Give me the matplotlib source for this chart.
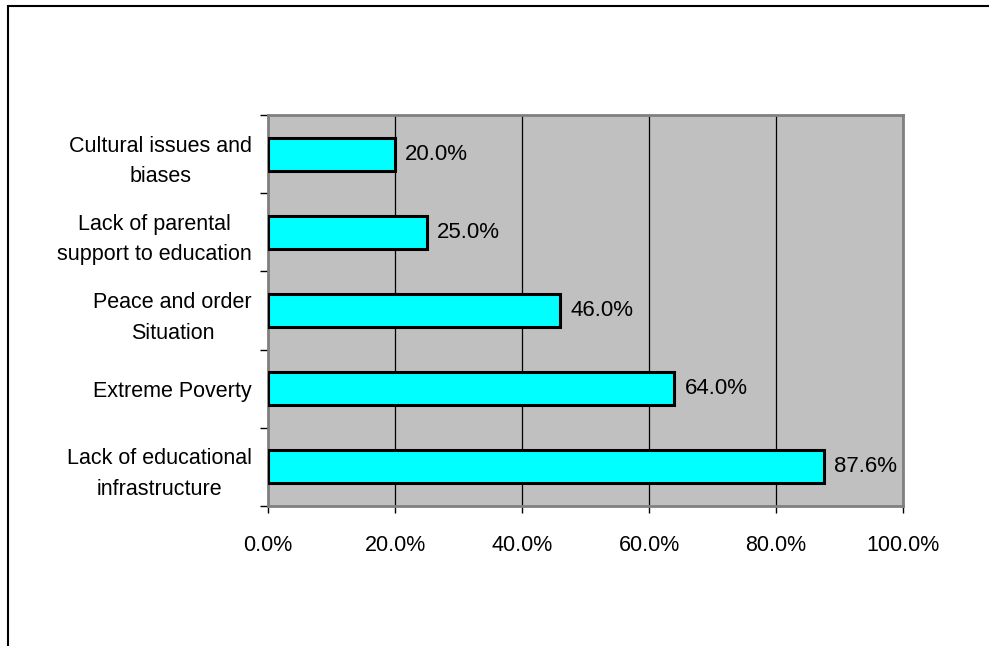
import matplotlib.pyplot as plt
from matplotlib.patches import Rectangle

# Data (bottom to top)
categories = ["Lack of educational\ninfrastructure", "Extreme Poverty",
              "Peace and order\nSituation", "Lack of parental\nsupport to education",
              "Cultural issues and\nbiases"]
values = [87.6, 64.0, 46.0, 25.0, 20.0]
xticks = [0, 20, 40, 60, 80, 100]

plt.rcParams['font.family'] = ['Liberation Sans', 'DejaVu Sans']

fig = plt.figure(figsize=(9.89, 6.46), dpi=100)

# outer chart frame (left and top edges visible)
fig.patches.append(Rectangle((8 / 989, -0.1), 1.2, 1 - 6 / 646 + 0.1,
                             transform=fig.transFigure, fill=False,
                             edgecolor='black', linewidth=1.5))

ax = fig.add_axes([268 / 989, 1 - 506 / 646, (903 - 268) / 989, (506 - 115) / 646])
ax.set_facecolor('#C0C0C0')

pos = range(len(categories))
ax.barh(pos, values, height=0.42, color='#00FFFF', edgecolor='black',
        linewidth=2.2, zorder=3)
for i, v in enumerate(values):
    ax.text(v + 1.6, i, f"{v:.1f}%", va='center', ha='left', fontsize=16, zorder=4)

ax.set_xlim(0, 100)
ax.set_ylim(-0.5, len(categories) - 0.5)
ax.set_xticks(xticks)
ax.set_xticklabels([f"{t:.1f}%" for t in xticks], fontsize=15.5)
ax.xaxis.grid(True, color='black', linewidth=0.9, zorder=1)
ax.set_axisbelow(True)

# category labels between boundary ticks
ax.set_yticks([i + 0.5 for i in range(-1, len(categories))])
ax.set_yticklabels([])
ax.set_yticks(list(pos), minor=True)
ax.set_yticklabels(categories, minor=True, fontsize=15.5, ha='right',
                   multialignment='center', linespacing=1.6)
ax.tick_params(axis='y', which='minor', length=0, pad=11.5)
ax.tick_params(axis='y', which='major', length=6, width=1, color='black')
ax.tick_params(axis='x', length=5, width=1, pad=16)

for s in ax.spines.values():
    s.set_color('#808080')
    s.set_linewidth(2)

fig.savefig('out.png', dpi=100)
